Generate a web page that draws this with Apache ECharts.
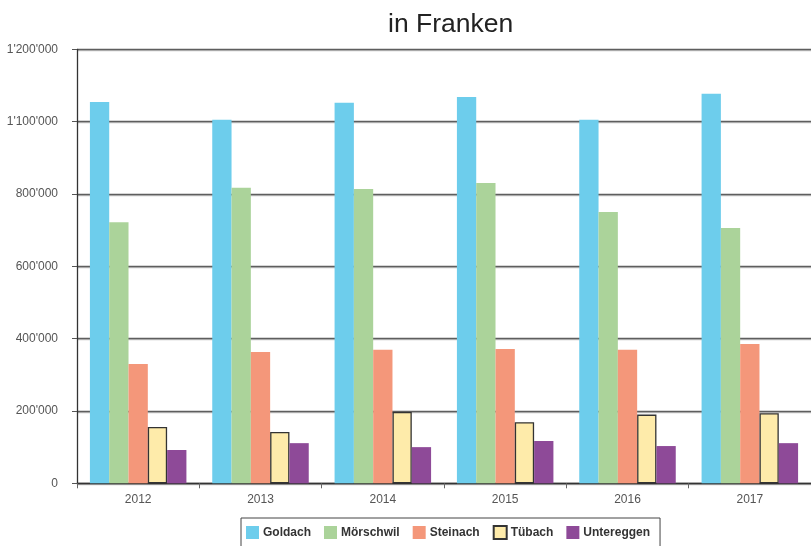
<!DOCTYPE html>
<html>
<head>
<meta charset="utf-8">
<script src="https://cdn.jsdelivr.net/npm/echarts@6/dist/echarts.min.js"></script>
<style>
html,body{margin:0;padding:0;background:#fff;}
#chart{width:811px;height:546px;}
</style>
</head>
<body>
<div id="chart"></div>
<script>
var categories = ['2012', '2013', '2014', '2015', '2016', '2017'];
var seriesNames = ['Goldach', 'Mörschwil', 'Steinach', 'Tübach', 'Untereggen'];
var goldach    = [1054000, 1005000, 1052000, 1068000, 1005000, 1077000];
var morschwil  = [722000, 817000, 814000, 830000, 750000, 706000];
var steinach   = [330000, 363000, 369000, 371000, 369000, 385000];
var tubach     = [156000, 142000, 197000, 169000, 190000, 194000];
var untereggen = [92000, 111000, 100000, 117000, 103000, 111000];
var yTickLabels = ["0", "200'000", "400'000", "600'000", "800'000", "1'100'000", "1'200'000"];

var FONT = "'Liberation Sans', Arial, Helvetica, sans-serif";
var colors = ['#6dcdec', '#abd39a', '#f4977a', '#feebaa', '#8e4a98'];
var dataSets = [goldach, morschwil, steinach, tubach, untereggen];

var chart = echarts.init(document.getElementById('chart'), null, {renderer: 'canvas'});

var series = seriesNames.map(function (name, i) {
  var s = {
    name: name,
    type: 'bar',
    data: dataSets[i],
    barWidth: 19.3,
    barGap: '0%',
    itemStyle: { color: colors[i] },
    emphasis: { disabled: true }
  };
  if (name === 'Tübach') {
    s.itemStyle.borderColor = '#333';
    s.itemStyle.borderWidth = 1.3;
  }
  return s;
});

chart.setOption({
  animation: false,
  backgroundColor: '#fff',
  title: {
    text: 'in Franken',
    left: 383,
    top: 6,
    textStyle: { fontFamily: FONT, fontSize: 26.5, fontWeight: 'normal', color: '#222' }
  },
  grid: { left: 77, right: -7, top: 49.3, bottom: 62.7, containLabel: false },
  legend: {
    data: seriesNames,
    left: 241,
    top: 518,
    padding: [7, 10, 14, 5],
    itemWidth: 13,
    itemHeight: 13,
    itemGap: 13,
    borderColor: '#444',
    borderWidth: 1,
    icon: 'rect',
    textStyle: { fontFamily: FONT, fontSize: 12, fontWeight: 'bold', color: '#333', padding: [0, 0, 0, -1] }
  },
  xAxis: {
    type: 'category',
    data: categories,
    axisLine: { lineStyle: { color: '#333', width: 1.3 } },
    axisTick: { show: true, length: 5, lineStyle: { color: '#666' } },
    axisLabel: { fontFamily: FONT, fontSize: 12, color: '#555', margin: 10 }
  },
  yAxis: {
    type: 'value',
    min: 0,
    max: 1200000,
    interval: 200000,
    axisLine: { show: true, lineStyle: { color: '#333', width: 1.3 } },
    axisTick: { show: true, length: 5, lineStyle: { color: '#555' } },
    axisLabel: {
      fontFamily: FONT, fontSize: 12, color: '#555', margin: 19,
      formatter: function (v) { return yTickLabels[Math.round(v / 200000)]; }
    },
    splitLine: { show: true, lineStyle: { color: '#5e5e5e', width: 1.3, shadowColor: '#c4c4c4', shadowOffsetY: 1.2, shadowBlur: 0 } }
  },
  series: series
});
</script>
</body>
</html>
